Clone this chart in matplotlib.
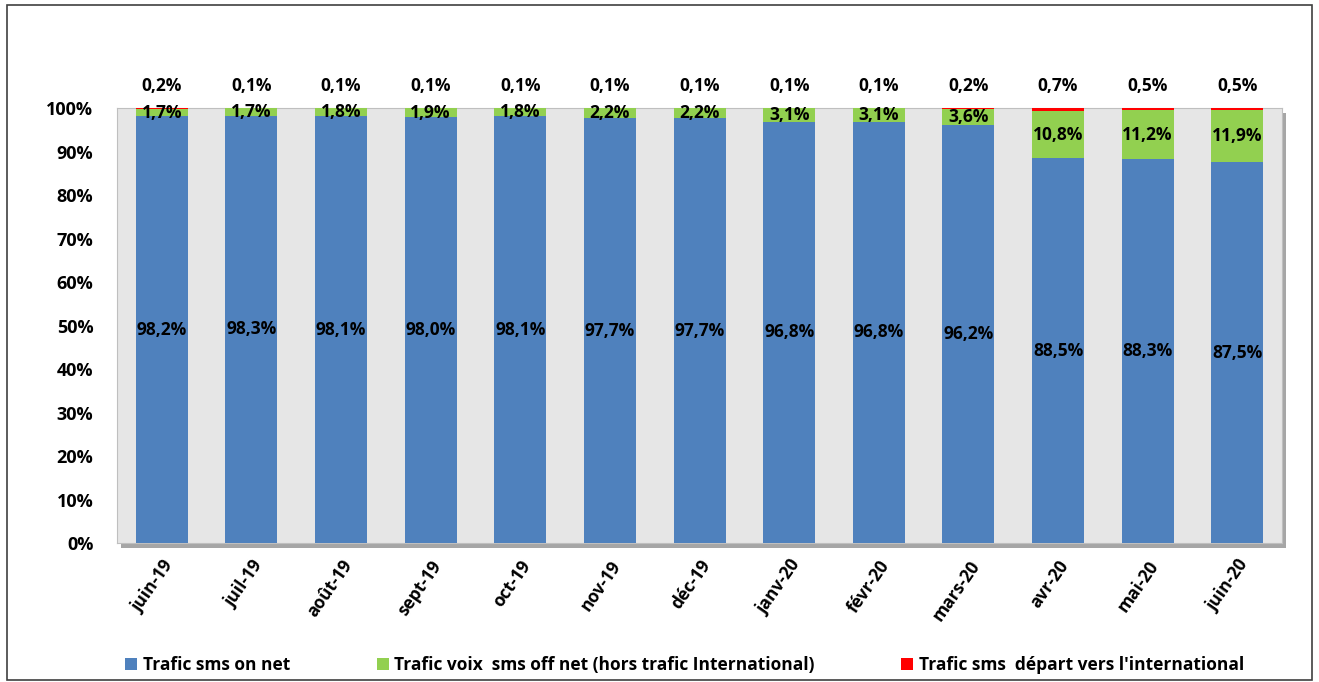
import matplotlib.pyplot as plt
import numpy as np
from matplotlib.patches import Rectangle

plt.rcParams['font.family'] = ['Open Sans', 'DejaVu Sans']
plt.rcParams['font.weight'] = 'bold'

mois = ['juin-19', 'juil-19', 'août-19', 'sept-19', 'oct-19', 'nov-19', 'déc-19',
        'janv-20', 'févr-20', 'mars-20', 'avr-20', 'mai-20', 'juin-20']
on_net = [98.2, 98.3, 98.1, 98.0, 98.1, 97.7, 97.7, 96.8, 96.8, 96.2, 88.5, 88.3, 87.5]
off_net = [1.7, 1.7, 1.8, 1.9, 1.8, 2.2, 2.2, 3.1, 3.1, 3.6, 10.8, 11.2, 11.9]
inter = [0.2, 0.1, 0.1, 0.1, 0.1, 0.1, 0.1, 0.1, 0.1, 0.2, 0.7, 0.5, 0.5]

noms = ['Trafic sms on net',
        'Trafic voix  sms off net (hors trafic International)',
        "Trafic sms  départ vers l'international"]
couleurs = ['#4F81BD', '#92D050', '#FF0000']

on_net = np.array(on_net)
off_net = np.array(off_net)
inter = np.array(inter)
total = on_net + off_net + inter
# 100% empilé (comme Excel)
b = on_net / total * 100
g = off_net / total * 100
r = inter / total * 100

fig = plt.figure(figsize=(13.19, 6.82), dpi=100)
ax = fig.add_axes([0.0887, 0.2038, 0.8833, 0.6378])
ax.set_facecolor('#E6E6E6')

# petite ombre du mur
fig.patches.append(Rectangle((0.0887 + 0.003, 0.2038 - 0.008), 0.8833, 0.6378,
                             transform=fig.transFigure, facecolor='#A6A6A6',
                             edgecolor='none', zorder=-5))

x = np.arange(len(mois))
w = 0.58
ax.bar(x, b, w, color=couleurs[0], label=noms[0], zorder=3)
ax.bar(x, g, w, bottom=b, color=couleurs[1], label=noms[1], zorder=3)
ax.bar(x, r, w, bottom=b + g, color=couleurs[2], label=noms[2], zorder=3)

fs = 12.5
for i in range(len(mois)):
    ax.text(x[i], b[i] / 2, f"{on_net[i]:.1f}%".replace('.', ','),
            ha='center', va='center', fontsize=fs, fontweight='bold', zorder=5)
    ax.text(x[i], b[i] + g[i] / 2, f"{off_net[i]:.1f}%".replace('.', ','),
            ha='center', va='center', fontsize=fs, fontweight='bold', zorder=5)
    ax.annotate(f"{inter[i]:.1f}%".replace('.', ','), (x[i], 100),
                xytext=(0, 16), textcoords='offset points',
                ha='center', va='center', fontsize=fs, fontweight='bold',
                annotation_clip=False)

ax.set_xlim(-0.5, len(mois) - 0.5)
ax.set_ylim(0, 100)
ax.set_yticks(np.arange(0, 101, 10))
ax.set_yticklabels([f"{v}%" for v in range(0, 101, 10)], fontsize=13, fontweight='bold')
ax.set_xticks(x)
ax.set_xticklabels(mois, rotation=55, ha='right', rotation_mode='anchor',
                   fontsize=12.5, fontweight='bold')
ax.tick_params(axis='y', length=0, pad=17)
ax.tick_params(axis='x', length=0, pad=10)
for s in ax.spines.values():
    s.set_color('#BFBFBF')

fig.legend(loc='center', bbox_to_anchor=(0.519, 0.025), ncol=3, frameon=False,
           handlelength=0.7, handleheight=0.7, handletextpad=0.3,
           columnspacing=5.0, prop={'weight': 'bold', 'size': 12.5})

fig.patches.append(Rectangle((0.005, 0.003), 0.99, 0.99, transform=fig.transFigure,
                             facecolor='none', edgecolor='#404040', linewidth=1.2))

fig.savefig('out.png', dpi=100)
